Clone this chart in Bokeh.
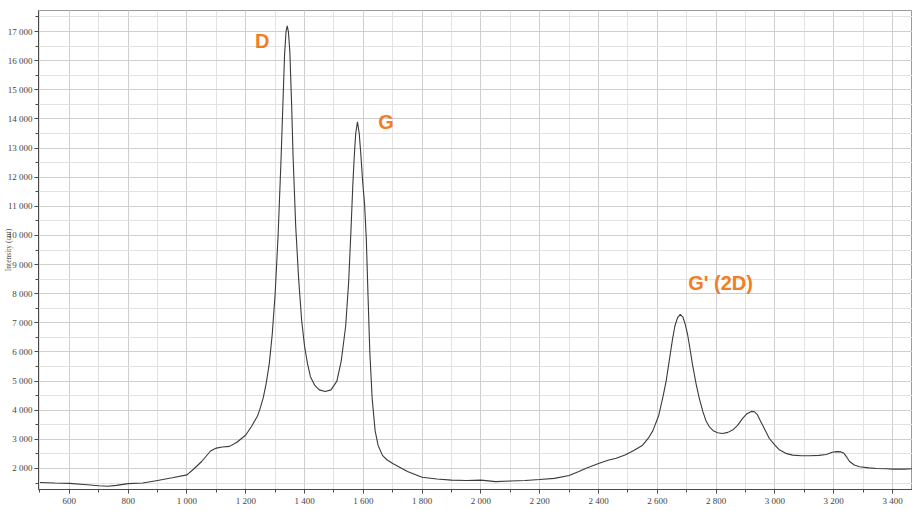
from bokeh.plotting import figure
from bokeh.models import FixedTicker, Label, Range1d
from bokeh.embed import file_html
from bokeh.resources import INLINE

# Raman spectrum
wavenumber = [500, 550, 600, 650, 700, 730, 760, 800, 850, 900, 950, 1000, 1025, 1050, 1080, 1100,
              1120, 1145, 1170, 1200, 1220, 1240, 1250, 1260, 1270, 1280, 1290, 1300, 1310, 1320,
              1326, 1332, 1337, 1341, 1345, 1350, 1356, 1361, 1370, 1380, 1390, 1400, 1410, 1420,
              1435, 1450, 1470, 1490, 1510, 1525, 1540, 1550, 1558, 1564, 1569, 1574, 1580, 1586,
              1592, 1598, 1604, 1610, 1616, 1622, 1630, 1640, 1650, 1665, 1680, 1700, 1750, 1800,
              1850, 1900, 1950, 2000, 2050, 2100, 2150, 2200, 2250, 2300, 2333, 2360, 2400, 2435,
              2460, 2490, 2520, 2550, 2570, 2585, 2605, 2620, 2630, 2642, 2652, 2660, 2669, 2678,
              2687, 2695, 2703, 2712, 2720, 2732, 2743, 2755, 2765, 2777, 2790, 2805, 2822, 2840,
              2856, 2873, 2890, 2905, 2920, 2930, 2940, 2950, 2960, 2970, 2981, 3000, 3015, 3040,
              3060, 3090, 3118, 3150, 3175, 3195, 3210, 3225, 3235, 3245, 3254, 3270, 3288, 3320,
              3345, 3380, 3401, 3440, 3468]
intensity = [1520, 1500, 1490, 1450, 1410, 1390, 1420, 1480, 1500, 1590, 1680, 1780, 2000, 2240, 2600, 2700,
             2740, 2760, 2900, 3150, 3450, 3800, 4100, 4450, 4950, 5600, 6600, 8000, 10000, 12600,
             14400, 16200, 17000, 17200, 17000, 16300, 14500, 12700, 10300, 8500, 7100, 6200, 5600, 5150,
             4850, 4700, 4640, 4700, 5000, 5700, 6900, 8400, 10200, 11700, 12700, 13500, 13900, 13500,
             12700, 11800, 11100, 9900, 7900, 6000, 4400, 3300, 2800, 2450, 2300, 2170, 1900, 1700,
             1640, 1600, 1590, 1600, 1550, 1570, 1590, 1620, 1660, 1760, 1900, 2020, 2170, 2290,
             2350, 2460, 2620, 2800, 3050, 3300, 3830, 4500, 5000, 5800, 6460, 6900, 7180, 7290,
             7200, 6950, 6600, 6050, 5550, 4900, 4400, 3950, 3650, 3430, 3300, 3230, 3200, 3240,
             3320, 3480, 3720, 3880, 3960, 3950, 3850, 3650, 3450, 3250, 3030, 2800, 2640, 2510,
             2460, 2440, 2440, 2450, 2480, 2560, 2580, 2570, 2520, 2380, 2240, 2120, 2060, 2020,
             2000, 1990, 1980, 1980, 1990]

x_ticks = [600, 800, 1000, 1200, 1400, 1600, 1800, 2000, 2200, 2400, 2600, 2800, 3000, 3200, 3400]
x_tick_labels = ["600", "800", "1 000", "1 200", "1 400", "1 600", "1 800", "2 000", "2 200",
                 "2 400", "2 600", "2 800", "3 000", "3 200", "3 400"]
x_minor = [500, 700, 900, 1100, 1300, 1500, 1700, 1900, 2100, 2300, 2500, 2700, 2900, 3100, 3300]
y_ticks = [2000, 3000, 4000, 5000, 6000, 7000, 8000, 9000, 10000, 11000, 12000, 13000, 14000,
           15000, 16000, 17000]
y_tick_labels = ["2 000", "3 000", "4 000", "5 000", "6 000", "7 000", "8 000", "9 000", "10 000",
                 "11 000", "12 000", "13 000", "14 000", "15 000", "16 000", "17 000"]
y_minor = [1500, 2500, 3500, 4500, 5500, 6500, 7500, 8500, 9500, 10500, 11500, 12500, 13500,
           14500, 15500, 16500, 17500]

peak_names = ["D", "G", "G' (2D)"]
peak_label_x = [1256, 1677, 2815]
peak_label_y = [16660, 13910, 8385]

p = figure(width=912, height=509, output_backend="svg", toolbar_location=None,
           x_range=Range1d(495, 3468), y_range=Range1d(1279, 17723),
           min_border_left=37, min_border_top=10, min_border_right=0, min_border_bottom=20)

p.background_fill_color = "white"
p.border_fill_color = "white"
p.outline_line_color = "#9a9a9a"
p.outline_line_width = 1

p.line(wavenumber, intensity, line_color="#3a3a3a", line_width=1.1)

p.xaxis.ticker = FixedTicker(ticks=x_ticks, minor_ticks=x_minor + x_ticks)
p.yaxis.ticker = FixedTicker(ticks=y_ticks, minor_ticks=y_minor + y_ticks)
p.xaxis.major_label_overrides = dict(zip(x_ticks, x_tick_labels))
p.yaxis.major_label_overrides = dict(zip(y_ticks, y_tick_labels))

for ax in (p.xaxis, p.yaxis):
    ax.axis_line_color = "#4a4a4a"
    ax.major_tick_line_color = "#4a4a4a"
    ax.minor_tick_line_color = "#4a4a4a"
    ax.major_tick_out = 4
    ax.major_tick_in = 0
    ax.minor_tick_out = 3
    ax.minor_tick_in = 0
    ax.major_label_text_font = "Liberation Serif"
    ax.major_label_text_font_size = "9px"
    ax.major_label_text_color = "#444444"
    ax.major_label_standoff = 2

p.yaxis.axis_label = "Intensity (cnt)"
p.yaxis.axis_label_text_font = "Liberation Serif"
p.yaxis.axis_label_text_font_size = "7.5px"
p.yaxis.axis_label_text_font_style = "normal"
p.yaxis.axis_label_text_color = "#555555"
p.yaxis.axis_label_standoff = -8

p.xgrid.grid_line_color = "#cfcfcf"
p.ygrid.grid_line_color = "#cfcfcf"
p.xgrid.minor_grid_line_color = "#e2e2e2"
p.ygrid.minor_grid_line_color = "#e2e2e2"

for name, lx, ly in zip(peak_names, peak_label_x, peak_label_y):
    p.add_layout(Label(x=lx, y=ly, text=name, text_color="#F07E26",
                       text_font="Liberation Sans", text_font_style="bold",
                       text_font_size="20px", text_align="center", text_baseline="middle"))

p.add_layout(Label(x=445, y=-12, x_units="screen", y_units="screen", text="cm\u207b\u00b9",
                   text_font="Liberation Serif", text_font_size="7px",
                   text_color="#555555", text_align="center", text_baseline="top"))

open("out.html", "w").write(file_html(p, INLINE))
